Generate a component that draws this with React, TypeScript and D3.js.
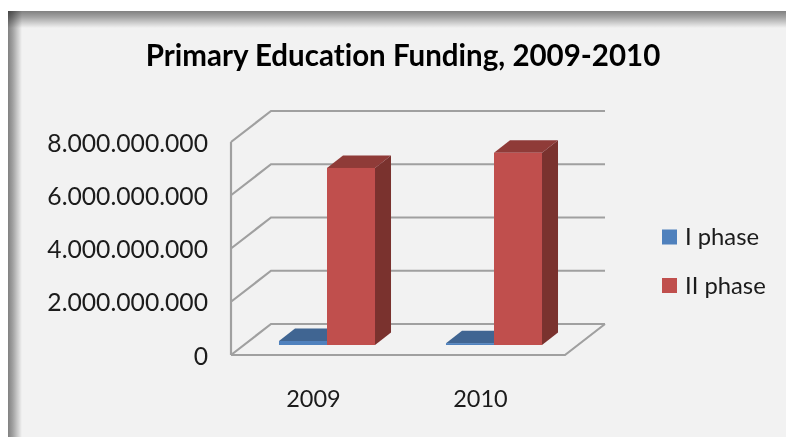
import { useEffect, useRef } from 'react';
import * as d3 from 'd3';

const years = ['2009', '2010'];
const seriesNames = ['I phase', 'II phase'];
const phaseOne = [150000000, 70000000];
const phaseTwo = [6650000000, 7220000000];
const yTicks = [0, 2000000000, 4000000000, 6000000000, 8000000000];
const frontColors = ['#4f81bd', '#c0504d'];
const topColors = ['#3f6592', '#8f3a38'];
const sideColors = ['#345478', '#7a302e'];
const FONT = 'Lato, "Open Sans", sans-serif';

export default function App() {
  const svgRef = useRef<SVGSVGElement>(null);

  useEffect(() => {
    if (!svgRef.current) return;
    const width = 786;
    const height = 437;
    const svg = d3.select(svgRef.current);
    svg.selectAll('*').remove();

    const defs = svg.append('defs');
    const blur = defs.append('filter').attr('id', 'soft');
    blur.append('feGaussianBlur').attr('stdDeviation', 0.7);

    const makeShade = (id: string, x2: number, y2: number) => {
      const g = defs.append('linearGradient').attr('id', id)
        .attr('x1', 0).attr('y1', 0).attr('x2', x2).attr('y2', y2);
      g.append('stop').attr('offset', '0%').attr('stop-color', '#000').attr('stop-opacity', 0.47);
      g.append('stop').attr('offset', '35%').attr('stop-color', '#000').attr('stop-opacity', 0.33);
      g.append('stop').attr('offset', '100%').attr('stop-color', '#000').attr('stop-opacity', 0);
    };
    makeShade('shadeTop', 0, 1);
    makeShade('shadeLeft', 1, 0);

    // page and panel
    svg.append('rect').attr('width', width).attr('height', height).attr('fill', '#fff');
    svg.append('rect').attr('x', 8).attr('y', 11).attr('width', width - 8).attr('height', height - 11).attr('fill', '#f2f2f2');
    svg.append('rect').attr('x', 8).attr('y', 11).attr('width', width - 8).attr('height', 17).attr('fill', 'url(#shadeTop)');
    svg.append('rect').attr('x', 8).attr('y', 11).attr('width', 14).attr('height', height - 11).attr('fill', 'url(#shadeLeft)');

    const g = svg.append('g').attr('filter', 'url(#soft)');

    const y = d3.scaleLinear().domain([0, 8000000000]).range([355, 142]);
    const x0 = d3.scaleBand().domain(years).range([231, 565]).paddingInner(0.425).paddingOuter(0.2125);
    const x1 = d3.scaleBand().domain(seriesNames).range([0, x0.bandwidth()]);

    // depth of the floor and of the bars, in screen px
    const wall = { dx: 40, dy: -31 };
    const barShift = { dx: 12.5, dy: -10 };
    const barDepth = { dx: 16, dy: -12.5 };

    const grid = '#a0a0a0';
    const path = d3.path();
    yTicks.forEach(t => {
      path.moveTo(x0.range()[0], y(t));
      path.lineTo(x0.range()[0] + wall.dx, y(t) + wall.dy);
      path.lineTo(x0.range()[1] + wall.dx, y(t) + wall.dy);
    });
    path.moveTo(x0.range()[0], y(0));
    path.lineTo(x0.range()[0], y(8000000000));
    path.moveTo(x0.range()[0], y(0));
    path.lineTo(x0.range()[1], y(0));
    path.lineTo(x0.range()[1] + wall.dx, y(0) + wall.dy);
    g.append('path').attr('d', path.toString()).attr('fill', 'none')
      .attr('stroke', grid).attr('stroke-width', 2.2);

    const seriesValues = [phaseOne, phaseTwo];
    const poly = d3.line();
    years.forEach((year, yi) => {
      seriesNames.forEach((name, si) => {
        const v = seriesValues[si][yi];
        const left = (x0(year) || 0) + (x1(name) || 0) + barShift.dx;
        const right = left + x1.bandwidth();
        const base = y(0) + barShift.dy;
        const top = base - (y(0) - y(v));
        const { dx, dy } = barDepth;
        g.append('path').attr('fill', topColors[si])
          .attr('d', poly([[left, top], [left + dx, top + dy], [right + dx, top + dy], [right, top]]));
        g.append('path').attr('fill', sideColors[si])
          .attr('d', poly([[right, top], [right + dx, top + dy], [right + dx, base + dy], [right, base]]));
        g.append('rect').attr('x', left).attr('y', top)
          .attr('width', x1.bandwidth()).attr('height', base - top)
          .attr('fill', frontColors[si]);
      });
    });

    const text = svg.append('g').attr('filter', 'url(#soft)')
      .style('font-family', FONT).style('font-variant-ligatures', 'none').attr('fill', '#1a1a1a');

    text.append('text').attr('x', 403).attr('y', 66).attr('text-anchor', 'middle')
      .style('font-size', '29.5px').style('font-weight', 700).attr('fill', '#000')
      .text('Primary Education Funding, 2009-2010');

    const fmt = d3.formatLocale({ decimal: ',', thousands: '.', grouping: [3], currency: ['', ''] }).format(',');
    text.selectAll('.ytick').data(yTicks).join('text')
      .attr('class', 'ytick')
      .attr('x', 208).attr('y', d => y(d) + 9.5).attr('text-anchor', 'end')
      .style('font-size', '24.7px')
      .text(d => fmt(d));

    text.selectAll('.xtick').data(years).join('text')
      .attr('class', 'xtick')
      .attr('x', d => (x0(d) || 0) + x0.bandwidth() / 2 - 1).attr('y', 407).attr('text-anchor', 'middle')
      .style('font-size', '23.5px')
      .text(d => d);

    const legendY = d3.scalePoint().domain(seriesNames).range([237, 285.5]);
    const legend = svg.append('g').attr('filter', 'url(#soft)');
    legend.selectAll('rect').data(seriesNames).join('rect')
      .attr('x', 662).attr('y', d => (legendY(d) || 0) - 7.5)
      .attr('width', 15).attr('height', 15)
      .attr('fill', (_, i) => frontColors[i]);
    legend.selectAll('text').data(seriesNames).join('text')
      .attr('x', 685).attr('y', d => (legendY(d) || 0) + 8)
      .style('font-family', FONT).style('font-size', '23.8px').attr('fill', '#1a1a1a')
      .text(d => d);
  }, []);

  return <svg ref={svgRef} width={786} height={437} style={{ position: 'absolute', left: 0, top: 0 }} />;
}
